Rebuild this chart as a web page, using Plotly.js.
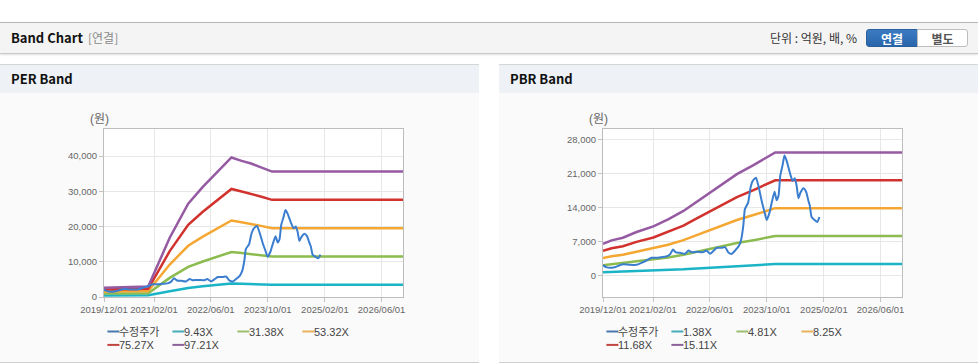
<!DOCTYPE html>
<html>
<head>
<meta charset="utf-8">
<script src="https://cdn.plot.ly/plotly-3.0.1.min.js"></script>
<style>
  html, body { margin:0; padding:0; background:#fff; }
  body { width:978px; height:364px; position:relative; overflow:hidden;
         font-family:"Noto Sans CJK KR","Liberation Sans",sans-serif; }
  .topbar { position:absolute; left:0; top:22px; width:978px; height:30px;
            background:#f4f4f4; border-top:1px solid #b4b4b4; border-bottom:1px solid #c9c9c9;
            box-shadow:0 1px 2px rgba(0,0,0,0.12); }
  .ttl { position:absolute; font-weight:bold; font-size:13px; color:#111; line-height:16px; }
  .sub { position:absolute; font-size:12px; color:#8a8a8a; line-height:16px; }
  .unit { position:absolute; font-size:12px; color:#333; line-height:16px; }
  .btn { position:absolute; top:6px; height:18px; line-height:18px; font-size:12px; font-weight:bold;
         text-align:center; box-sizing:border-box; }
  .panel { position:absolute; top:64px; width:479px; height:299px; background:#fafafa;
           border-top:1px solid #d6d6d6; border-bottom:1px solid #cfcfcf; box-sizing:border-box; }
  .phead { position:absolute; left:0; top:0; width:479px; height:28px; background:#eef2f7; }
  .chart { position:absolute; top:29px; left:0; width:479px; height:269px; }
</style>
</head>
<body>
<div class="topbar">
  <div class="ttl" style="left:11px; top:7px;">Band Chart</div>
  <div class="sub" style="left:88px; top:7px;">[연결]</div>
  <div class="unit" style="left:770px; top:7px;">단위 : 억원, 배, %</div>
  <div class="btn" style="left:866px; width:52px; background:linear-gradient(#3b7bc2,#2a65aa); color:#fff; border:1px solid #2a5f9e; border-radius:3px 0 0 3px;">연결</div>
  <div class="btn" style="left:917px; width:51px; background:#fff; color:#555; border:1px solid #bdbdbd; border-radius:0 3px 3px 0;">별도</div>
</div>

<div class="panel" style="left:0;">
  <div class="phead"><div class="ttl" style="left:11px; top:6px;">PER Band</div></div>
  <div class="chart" id="per"></div>
</div>
<div class="panel" style="left:499px;">
  <div class="phead"><div class="ttl" style="left:11px; top:6px;">PBR Band</div></div>
  <div class="chart" id="pbr"></div>
</div>

<script>
// ---------------- data ----------------
const xTickVals = ['2019-12-01','2021-02-01','2022-06-01','2023-10-01','2025-02-01','2026-06-01'];
const xTickText = ['2019/12/01','2021/02/01','2022/06/01','2023/10/01','2025/02/01','2026/06/01'];
const unitLabel = '(원)';

const priceName = '수정주가';
const priceDates = ['2019-12-01','2019-12-28','2020-01-28','2020-03-10','2020-04-22','2020-05-19','2020-07-16','2020-09-13','2020-10-25','2020-12-07',
  '2021-01-19','2021-03-01','2021-04-13','2021-05-25','2021-06-25','2021-07-22','2021-08-16','2021-09-19','2021-11-01','2021-12-01',
  '2021-12-28','2022-02-10','2022-04-07','2022-05-04','2022-06-04','2022-07-01','2022-08-01','2022-09-13','2022-10-10','2022-11-10',
  '2022-12-07','2023-01-04','2023-02-04','2023-02-25','2023-03-16','2023-03-28','2023-04-25','2023-05-16','2023-06-04','2023-07-01',
  '2023-07-22','2023-08-19','2023-09-10','2023-10-01','2023-10-25','2023-11-13','2023-12-07','2023-12-25','2024-01-10','2024-01-25',
  '2024-02-13','2024-03-01','2024-03-19','2024-04-19','2024-05-10','2024-05-28','2024-06-13','2024-06-28','2024-07-16','2024-08-10',
  '2024-09-01','2024-09-22','2024-10-04','2024-10-19','2024-11-16','2024-12-07','2024-12-25'];
const priceValues = [2070,1660,1520,1660,2070,2280,2140,2140,2560,3040,
  3600,3600,3730,3870,4280,5310,4700,4630,4420,5100,
  4770,4840,4770,5100,4420,4980,5670,5670,5810,4630,
  4420,5100,6010,7400,10500,13600,15000,18100,19500,20150,
  18460,15350,13270,11400,12920,15000,17220,15490,16400,20560,
  22630,24710,23670,20900,19500,20010,18460,15900,17080,17980,
  17290,15350,14320,12030,11340,11000,12030];

// PER band
const perDates = ['2019-12-01','2020-06-01','2020-12-13','2021-06-15','2021-11-20','2022-03-25','2022-06-22','2022-11-25','2023-02-20','2023-05-12','2023-07-25','2023-11-07','2026-12-01'];
const perLabels = ['9.43X','31.38X','53.32X','75.27X','97.21X'];
const per943  = [450, 480, 500, 1632, 2571, 3031, 3336, 3842, 3750, 3676, 3584, 3455, 3455];
const per3138 = [1000, 1060, 1090, 5430, 8554, 10087, 11101, 12786, 12479, 12234, 11927, 11498, 11498];
const per5332 = [1550, 1650, 1700, 9226, 14535, 17141, 18863, 21726, 21205, 20788, 20267, 19538, 19538];
const per7527 = [2100, 2250, 2320, 13024, 20519, 24197, 26628, 30670, 29934, 29346, 28610, 27581, 27581];
const per9721 = [2650, 2850, 2950, 16820, 26500, 31250, 34390, 39610, 38660, 37900, 36950, 35620, 35620];

// PBR band
const pbrDates = ['2019-12-01','2020-02-13','2020-05-19','2020-09-13','2021-02-04','2021-06-10','2021-10-19','2022-02-10','2022-05-19','2022-09-13','2023-01-19','2023-06-10','2023-10-01','2023-12-13','2026-12-01'];
const pbrLabels = ['1.38X','4.81X','8.25X','11.68X','15.11X'];
const pbr138  = [593, 656, 707, 814, 921, 1055, 1212, 1389, 1540, 1716, 1906, 2077, 2221, 2316, 2316];
const pbr481  = [2069, 2289, 2464, 2839, 3212, 3676, 4224, 4841, 5370, 5984, 6646, 7241, 7744, 8075, 8075];
const pbr825  = [3549, 3926, 4226, 4870, 5509, 6306, 7245, 8305, 9211, 10265, 11400, 12422, 13284, 13852, 13852];
const pbr1168 = [5025, 5558, 5983, 6895, 7800, 8928, 10258, 11757, 13040, 14532, 16140, 17586, 18807, 19611, 19611];
const pbr1511 = [6500, 7190, 7740, 8920, 10090, 11550, 13270, 15210, 16870, 18800, 20880, 22750, 24330, 25370, 25370];

// ---------------- styling ----------------
const bandColors   = ['#1bb4c6','#8cbb4f','#f5a733','#d2322d','#965aa2'];
const priceColor   = '#3b7ecf';
const legendBand   = ['#44adb9','#9cbf70','#e9b25d','#c2443f','#8f619a'];
const legendPrice  = '#4a78ae';
const FONT = 'Liberation Sans, Noto Sans CJK KR, sans-serif';

function makeChart(divId, dates, bands, labels, yRange, yDtick) {
  const traces = [];
  bands.forEach((vals, i) => {
    traces.push({type:'scatter', mode:'lines', x:dates, y:vals, name:labels[i],
      line:{color:bandColors[i], width:2.5}, hoverinfo:'skip'});
  });
  traces.push({type:'scatter', mode:'lines', x:priceDates, y:priceValues, name:priceName,
    line:{color:priceColor, width:2, shape:'spline', smoothing:0.5}, hoverinfo:'skip'});

  const plotW = 299, plotH = 168;
  const names = [priceName].concat(labels);
  const lcolors = [legendPrice].concat(legendBand);
  const shapes = [], annotations = [];
  names.forEach((nm, k) => {
    const col = k % 4, row = Math.floor(k / 4);
    const sx = (3.4 + col * 65) / plotW;
    const tx = (16.4 + col * 65) / plotW;
    const yy = -(34.5 + row * 13.4) / plotH;
    shapes.push({type:'line', xref:'paper', yref:'paper', x0:sx, x1:sx + 12/plotW, y0:yy, y1:yy,
      line:{color:lcolors[k], width:2}});
    annotations.push({xref:'paper', yref:'paper', x:tx, y:yy, xanchor:'left', yanchor:'middle',
      text:nm, showarrow:false, borderpad:0, borderwidth:0, xshift:-1,
      font:{family:FONT, size:11, color:'#444'}});
  });
  annotations.push({xref:'paper', yref:'paper', x:0, y:1, xshift:-5, yshift:10,
    xanchor:'center', yanchor:'middle', text:unitLabel, showarrow:false,
    font:{family:FONT, size:12, color:'#666'}});

  const axisCommon = {showgrid:true, gridcolor:'#e7e7e7', gridwidth:1, showline:true, linecolor:'#bdbdbd',
    linewidth:1, mirror:true, ticks:'outside', ticklen:4, tickcolor:'#c4c4c4', zeroline:false, fixedrange:true,
    tickfont:{family:FONT, size:9.5, color:'#666'}};

  const layout = {
    width:479, height:269, margin:{l:104, r:76, t:35, b:66, pad:0},
    paper_bgcolor:'rgba(0,0,0,0)', plot_bgcolor:'#ffffff', showlegend:false,
    xaxis:Object.assign({}, axisCommon, {type:'date', range:['2019-12-01','2026-12-01'],
      tickmode:'array', tickvals:xTickVals, ticktext:xTickText}),
    yaxis:Object.assign({}, axisCommon, {range:yRange, tick0:0, dtick:yDtick, tickformat:',d'}),
    shapes:shapes, annotations:annotations
  };
  Plotly.newPlot(divId, traces, layout, {staticPlot:true, displayModeBar:false});
}

makeChart('per', perDates, [per943, per3138, per5332, per7527, per9721], perLabels, [0, 47700], 10000);
makeChart('pbr', pbrDates, [pbr138, pbr481, pbr825, pbr1168, pbr1511], pbrLabels, [-4500, 30200], 7000);
</script>
</body>
</html>
